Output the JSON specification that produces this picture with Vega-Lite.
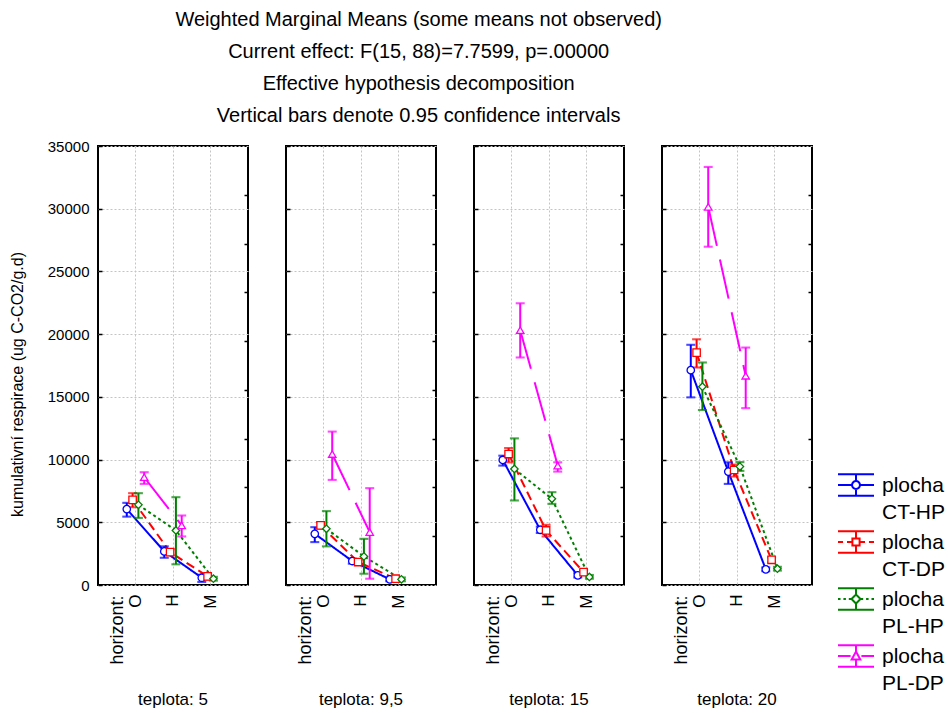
{
  "$schema": "https://vega.github.io/schema/vega-lite/v6.json",
  "padding": {"left": 8, "top": 10, "right": 5, "bottom": 5},
  "title": {
    "text": ["Weighted Marginal Means (some means not observed)", "Current effect: F(15, 88)=7.7599, p=.00000", "Effective hypothesis decomposition", "Vertical bars denote 0.95 confidence intervals"],
    "fontSize": 20, "fontWeight": "normal", "font": "Liberation Sans", "color": "black",
    "lineHeight": 32, "offset": 12, "anchor": "middle", "dx": -58
  },
  "data": {"values": [
    {"teplota": "5", "horizont": "O", "plocha": "CT-HP", "mean": 6050, "lo": 5450, "hi": 6550},
    {"teplota": "5", "horizont": "H", "plocha": "CT-HP", "mean": 2680, "lo": 2170, "hi": 3080},
    {"teplota": "5", "horizont": "M", "plocha": "CT-HP", "mean": 580, "lo": 240, "hi": 820},
    {"teplota": "5", "horizont": "O", "plocha": "CT-DP", "mean": 6790, "lo": 6200, "hi": 7320},
    {"teplota": "5", "horizont": "H", "plocha": "CT-DP", "mean": 2620, "lo": 2400, "hi": 2850},
    {"teplota": "5", "horizont": "M", "plocha": "CT-DP", "mean": 690, "lo": 450, "hi": 900},
    {"teplota": "5", "horizont": "O", "plocha": "PL-HP", "mean": 6390, "lo": 5350, "hi": 7320},
    {"teplota": "5", "horizont": "H", "plocha": "PL-HP", "mean": 4350, "lo": 1650, "hi": 7000},
    {"teplota": "5", "horizont": "M", "plocha": "PL-HP", "mean": 500, "lo": 350, "hi": 650},
    {"teplota": "5", "horizont": "O", "plocha": "PL-DP", "mean": 8590, "lo": 8060, "hi": 8990},
    {"teplota": "5", "horizont": "H", "plocha": "PL-DP", "mean": 4750, "lo": 3870, "hi": 5540},
    {"teplota": "9,5", "horizont": "O", "plocha": "CT-HP", "mean": 4080, "lo": 3420, "hi": 4610},
    {"teplota": "9,5", "horizont": "H", "plocha": "CT-HP", "mean": 1910, "lo": 1700, "hi": 2100},
    {"teplota": "9,5", "horizont": "M", "plocha": "CT-HP", "mean": 450, "lo": 300, "hi": 600},
    {"teplota": "9,5", "horizont": "O", "plocha": "CT-DP", "mean": 4750, "lo": 4500, "hi": 5000},
    {"teplota": "9,5", "horizont": "H", "plocha": "CT-DP", "mean": 1830, "lo": 1650, "hi": 2000},
    {"teplota": "9,5", "horizont": "M", "plocha": "CT-DP", "mean": 500, "lo": 350, "hi": 650},
    {"teplota": "9,5", "horizont": "O", "plocha": "PL-HP", "mean": 4480, "lo": 3080, "hi": 5890},
    {"teplota": "9,5", "horizont": "H", "plocha": "PL-HP", "mean": 2280, "lo": 900, "hi": 3680},
    {"teplota": "9,5", "horizont": "M", "plocha": "PL-HP", "mean": 450, "lo": 300, "hi": 600},
    {"teplota": "9,5", "horizont": "O", "plocha": "PL-DP", "mean": 10440, "lo": 8380, "hi": 12230},
    {"teplota": "9,5", "horizont": "H", "plocha": "PL-DP", "mean": 4220, "lo": 500, "hi": 7720},
    {"teplota": "15", "horizont": "O", "plocha": "CT-HP", "mean": 9970, "lo": 9520, "hi": 10310},
    {"teplota": "15", "horizont": "H", "plocha": "CT-HP", "mean": 4400, "lo": 4150, "hi": 4650},
    {"teplota": "15", "horizont": "M", "plocha": "CT-HP", "mean": 770, "lo": 600, "hi": 950},
    {"teplota": "15", "horizont": "O", "plocha": "CT-DP", "mean": 10440, "lo": 9780, "hi": 10920},
    {"teplota": "15", "horizont": "H", "plocha": "CT-DP", "mean": 4350, "lo": 3870, "hi": 4800},
    {"teplota": "15", "horizont": "M", "plocha": "CT-DP", "mean": 1030, "lo": 850, "hi": 1200},
    {"teplota": "15", "horizont": "O", "plocha": "PL-HP", "mean": 9250, "lo": 6740, "hi": 11690},
    {"teplota": "15", "horizont": "H", "plocha": "PL-HP", "mean": 6870, "lo": 6470, "hi": 7400},
    {"teplota": "15", "horizont": "M", "plocha": "PL-HP", "mean": 640, "lo": 500, "hi": 800},
    {"teplota": "15", "horizont": "O", "plocha": "PL-DP", "mean": 20310, "lo": 18140, "hi": 22460},
    {"teplota": "15", "horizont": "H", "plocha": "PL-DP", "mean": 9520, "lo": 9040, "hi": 9780},
    {"teplota": "20", "horizont": "O", "plocha": "CT-HP", "mean": 17130, "lo": 14960, "hi": 19150},
    {"teplota": "20", "horizont": "H", "plocha": "CT-HP", "mean": 9040, "lo": 8060, "hi": 9780},
    {"teplota": "20", "horizont": "M", "plocha": "CT-HP", "mean": 1250, "lo": 1100, "hi": 1400},
    {"teplota": "20", "horizont": "O", "plocha": "CT-DP", "mean": 18530, "lo": 17340, "hi": 19590},
    {"teplota": "20", "horizont": "H", "plocha": "CT-DP", "mean": 9170, "lo": 8650, "hi": 9600},
    {"teplota": "20", "horizont": "M", "plocha": "CT-DP", "mean": 2010, "lo": 1800, "hi": 2200},
    {"teplota": "20", "horizont": "O", "plocha": "PL-HP", "mean": 15810, "lo": 13950, "hi": 17740},
    {"teplota": "20", "horizont": "H", "plocha": "PL-HP", "mean": 9440, "lo": 9100, "hi": 9800},
    {"teplota": "20", "horizont": "M", "plocha": "PL-HP", "mean": 1300, "lo": 1150, "hi": 1450},
    {"teplota": "20", "horizont": "O", "plocha": "PL-DP", "mean": 30150, "lo": 26970, "hi": 33330},
    {"teplota": "20", "horizont": "H", "plocha": "PL-DP", "mean": 16680, "lo": 14100, "hi": 18930}
  ]},
  "spacing": 34,
  "resolve": {"scale": {"color": "shared", "shape": "shared", "strokeDash": "shared"}, "legend": {"color": "shared"}},
  "hconcat": [
    {
      "width": 150, "height": 439,
      "transform": [{"filter": "datum.teplota == '5'"}],
      "title": {"text": "teplota: 5", "orient": "bottom", "offset": 28, "fontSize": 17, "font": "Liberation Sans", "fontWeight": "normal", "color": "black"},
      "encoding": {
        "x": {"field": "horizont", "type": "nominal", "title": "horizont:", "scale": {"domain": ["O", "H", "M"], "paddingInner": 0.38, "paddingOuter": 0.69},
          "axis": {"titleAngle": 270, "titleAlign": "right", "titleBaseline": "middle", "titleX": 19, "titleY": 10, "titleFontSize": 18, "labelAngle": 270, "labelAlign": "right", "labelBaseline": "middle", "labelFontSize": 17, "labelPadding": 9, "ticks": false, "grid": true, "bandPosition": 0.5}},
        "xOffset": {"field": "plocha", "type": "nominal", "scale": {"domain": ["CT-HP", "CT-DP", "PL-HP", "PL-DP"]}},
        "color": {"field": "plocha", "type": "nominal", "scale": {"domain": ["CT-HP", "CT-DP", "PL-HP", "PL-DP"], "range": ["#0000ff", "#ff0000", "#008000", "#ff00ff"]},
          "legend": {
            "title": null, "orient": "none", "legendX": 739, "legendY": 320, "padding": 0,
            "labelExpr": "['plocha', datum.label]",
            "labelFont": "Liberation Sans", "labelFontSize": 21, "labelColor": "black", "labelOffset": 7, "labelLimit": 200,
            "symbolSize": 1296, "symbolStrokeWidth": 2, "rowPadding": 0,
            "encode": {
              "symbols": {"update": {
                "shape": {"signal": "datum.value === 'CT-HP' ? 'M-1,-0.6H1M-1,0.6H1M0,-0.6V-0.22M0,0.22V0.6M-1,0H-0.22M0.22,0H1M0.22,0A0.22,0.22,0,1,1,-0.22,0A0.22,0.22,0,1,1,0.22,0' : datum.value === 'CT-DP' ? 'M-1,-0.6H1M-1,0.6H1M0,-0.6V-0.2M0,0.2V0.6M-1,0H-0.72M-0.5,0H-0.2M0.2,0H0.5M0.72,0H1M-0.2,-0.2H0.2V0.2H-0.2Z' : datum.value === 'PL-HP' ? 'M-1,-0.6H1M-1,0.6H1M0,-0.6V-0.25M0,0.25V0.6M-1,0H-0.86M-0.7,0H-0.56M-0.4,0H-0.25M0.25,0H0.4M0.56,0H0.7M0.86,0H1M0,-0.25L0.25,0L0,0.25L-0.25,0Z' : 'M-1,-0.6H1M-1,0.6H1M0,-0.6V-0.25M0,0.2V0.6M-1,0H-0.3M0.3,0H1M0,-0.25L0.24,0.2H-0.24Z'"},
                "fill": {"value": "transparent"},
                "strokeWidth": {"value": 2},
                "opacity": {"value": 1}
              }},
              "labels": {"update": {"lineHeight": {"value": 27}, "baseline": {"value": "alphabetic"}, "dy": {"value": 7}}}
            }
          }}
      },
      "layer": [
        {"mark": {"type": "line", "strokeWidth": 2},
         "encoding": {
           "y": {"field": "mean", "type": "quantitative", "scale": {"domain": [0, 35000], "nice": false, "zero": false},
             "axis": {"title": "kumulativní respirace (ug C-CO2/g.d)", "titleFontSize": 16, "titlePadding": 22, "titleY": 238, "values": [0, 5000, 10000, 15000, 20000, 25000, 30000, 35000], "format": "d", "labelFontSize": 15, "labelPadding": 13, "tickSize": -4, "tickWidth": 1.5, "grid": true}},
           "strokeDash": {"field": "plocha", "type": "nominal", "scale": {"domain": ["PL-DP", "PL-HP", "CT-DP", "CT-HP"], "range": [[40, 14], [3, 3], [9, 5], [1, 0]]}, "legend": null},
           "order": {"value": null}
         }},
        {"mark": {"type": "rule", "strokeWidth": 2},
         "encoding": {
           "y": {"field": "lo", "type": "quantitative", "axis": {"orient": "right", "values": [3888.9, 7777.8, 11666.7, 15555.6, 19444.4, 23333.3, 27222.2, 31111.1], "labels": false, "grid": false, "title": null, "tickSize": -4, "tickWidth": 1.5}},
           "y2": {"field": "hi"}
         }},
        {"mark": {"type": "tick", "size": 7, "thickness": 0.1, "filled": false, "strokeWidth": 2}, "encoding": {"y": {"field": "lo", "type": "quantitative", "axis": null}}},
        {"mark": {"type": "tick", "size": 7, "thickness": 0.1, "filled": false, "strokeWidth": 2}, "encoding": {"y": {"field": "hi", "type": "quantitative", "axis": null}}},
        {"mark": {"type": "point", "filled": false, "fill": "white", "fillOpacity": 1, "size": 55, "strokeWidth": 1.3, "opacity": 1},
         "encoding": {
           "y": {"field": "mean", "type": "quantitative", "axis": null},
           "shape": {"field": "plocha", "type": "nominal", "scale": {"domain": ["PL-DP", "PL-HP", "CT-DP", "CT-HP"], "range": ["triangle-up", "diamond", "square", "circle"]}, "legend": null}
         }}
      ],
      "resolve": {"axis": {"y": "independent"}}
    },
    {
      "width": 150, "height": 439,
      "transform": [{"filter": "datum.teplota == '9,5'"}],
      "title": {"text": "teplota: 9,5", "orient": "bottom", "offset": 28, "fontSize": 17, "font": "Liberation Sans", "fontWeight": "normal", "color": "black"},
      "encoding": {
        "x": {"field": "horizont", "type": "nominal", "title": "horizont:", "scale": {"domain": ["O", "H", "M"], "paddingInner": 0.38, "paddingOuter": 0.69},
          "axis": {"titleAngle": 270, "titleAlign": "right", "titleBaseline": "middle", "titleX": 19, "titleY": 10, "titleFontSize": 18, "labelAngle": 270, "labelAlign": "right", "labelBaseline": "middle", "labelFontSize": 17, "labelPadding": 9, "ticks": false, "grid": true, "bandPosition": 0.5}},
        "xOffset": {"field": "plocha", "type": "nominal", "scale": {"domain": ["CT-HP", "CT-DP", "PL-HP", "PL-DP"]}},
        "color": {"field": "plocha", "type": "nominal", "scale": {"domain": ["CT-HP", "CT-DP", "PL-HP", "PL-DP"], "range": ["#0000ff", "#ff0000", "#008000", "#ff00ff"]}}
      },
      "layer": [
        {"mark": {"type": "line", "strokeWidth": 2},
         "encoding": {
           "y": {"field": "mean", "type": "quantitative", "scale": {"domain": [0, 35000], "nice": false, "zero": false},
             "axis": {"title": null, "values": [0, 5000, 10000, 15000, 20000, 25000, 30000, 35000], "labels": false, "tickSize": -4, "tickWidth": 1.5, "grid": true}},
           "strokeDash": {"field": "plocha", "type": "nominal", "scale": {"domain": ["PL-DP", "PL-HP", "CT-DP", "CT-HP"], "range": [[40, 14], [3, 3], [9, 5], [1, 0]]}, "legend": null},
           "order": {"value": null}
         }},
        {"mark": {"type": "rule", "strokeWidth": 2},
         "encoding": {
           "y": {"field": "lo", "type": "quantitative", "axis": {"orient": "right", "values": [3888.9, 7777.8, 11666.7, 15555.6, 19444.4, 23333.3, 27222.2, 31111.1], "labels": false, "grid": false, "title": null, "tickSize": -4, "tickWidth": 1.5}},
           "y2": {"field": "hi"}
         }},
        {"mark": {"type": "tick", "size": 7, "thickness": 0.1, "filled": false, "strokeWidth": 2}, "encoding": {"y": {"field": "lo", "type": "quantitative", "axis": null}}},
        {"mark": {"type": "tick", "size": 7, "thickness": 0.1, "filled": false, "strokeWidth": 2}, "encoding": {"y": {"field": "hi", "type": "quantitative", "axis": null}}},
        {"mark": {"type": "point", "filled": false, "fill": "white", "fillOpacity": 1, "size": 55, "strokeWidth": 1.3, "opacity": 1},
         "encoding": {
           "y": {"field": "mean", "type": "quantitative", "axis": null},
           "shape": {"field": "plocha", "type": "nominal", "scale": {"domain": ["PL-DP", "PL-HP", "CT-DP", "CT-HP"], "range": ["triangle-up", "diamond", "square", "circle"]}, "legend": null}
         }}
      ],
      "resolve": {"axis": {"y": "independent"}}
    },
    {
      "width": 150, "height": 439,
      "transform": [{"filter": "datum.teplota == '15'"}],
      "title": {"text": "teplota: 15", "orient": "bottom", "offset": 28, "fontSize": 17, "font": "Liberation Sans", "fontWeight": "normal", "color": "black"},
      "encoding": {
        "x": {"field": "horizont", "type": "nominal", "title": "horizont:", "scale": {"domain": ["O", "H", "M"], "paddingInner": 0.38, "paddingOuter": 0.69},
          "axis": {"titleAngle": 270, "titleAlign": "right", "titleBaseline": "middle", "titleX": 19, "titleY": 10, "titleFontSize": 18, "labelAngle": 270, "labelAlign": "right", "labelBaseline": "middle", "labelFontSize": 17, "labelPadding": 9, "ticks": false, "grid": true, "bandPosition": 0.5}},
        "xOffset": {"field": "plocha", "type": "nominal", "scale": {"domain": ["CT-HP", "CT-DP", "PL-HP", "PL-DP"]}},
        "color": {"field": "plocha", "type": "nominal", "scale": {"domain": ["CT-HP", "CT-DP", "PL-HP", "PL-DP"], "range": ["#0000ff", "#ff0000", "#008000", "#ff00ff"]}}
      },
      "layer": [
        {"mark": {"type": "line", "strokeWidth": 2},
         "encoding": {
           "y": {"field": "mean", "type": "quantitative", "scale": {"domain": [0, 35000], "nice": false, "zero": false},
             "axis": {"title": null, "values": [0, 5000, 10000, 15000, 20000, 25000, 30000, 35000], "labels": false, "tickSize": -4, "tickWidth": 1.5, "grid": true}},
           "strokeDash": {"field": "plocha", "type": "nominal", "scale": {"domain": ["PL-DP", "PL-HP", "CT-DP", "CT-HP"], "range": [[40, 14], [3, 3], [9, 5], [1, 0]]}, "legend": null},
           "order": {"value": null}
         }},
        {"mark": {"type": "rule", "strokeWidth": 2},
         "encoding": {
           "y": {"field": "lo", "type": "quantitative", "axis": {"orient": "right", "values": [3888.9, 7777.8, 11666.7, 15555.6, 19444.4, 23333.3, 27222.2, 31111.1], "labels": false, "grid": false, "title": null, "tickSize": -4, "tickWidth": 1.5}},
           "y2": {"field": "hi"}
         }},
        {"mark": {"type": "tick", "size": 7, "thickness": 0.1, "filled": false, "strokeWidth": 2}, "encoding": {"y": {"field": "lo", "type": "quantitative", "axis": null}}},
        {"mark": {"type": "tick", "size": 7, "thickness": 0.1, "filled": false, "strokeWidth": 2}, "encoding": {"y": {"field": "hi", "type": "quantitative", "axis": null}}},
        {"mark": {"type": "point", "filled": false, "fill": "white", "fillOpacity": 1, "size": 55, "strokeWidth": 1.3, "opacity": 1},
         "encoding": {
           "y": {"field": "mean", "type": "quantitative", "axis": null},
           "shape": {"field": "plocha", "type": "nominal", "scale": {"domain": ["PL-DP", "PL-HP", "CT-DP", "CT-HP"], "range": ["triangle-up", "diamond", "square", "circle"]}, "legend": null}
         }}
      ],
      "resolve": {"axis": {"y": "independent"}}
    },
    {
      "width": 150, "height": 439,
      "transform": [{"filter": "datum.teplota == '20'"}],
      "title": {"text": "teplota: 20", "orient": "bottom", "offset": 28, "fontSize": 17, "font": "Liberation Sans", "fontWeight": "normal", "color": "black"},
      "encoding": {
        "x": {"field": "horizont", "type": "nominal", "title": "horizont:", "scale": {"domain": ["O", "H", "M"], "paddingInner": 0.38, "paddingOuter": 0.69},
          "axis": {"titleAngle": 270, "titleAlign": "right", "titleBaseline": "middle", "titleX": 19, "titleY": 10, "titleFontSize": 18, "labelAngle": 270, "labelAlign": "right", "labelBaseline": "middle", "labelFontSize": 17, "labelPadding": 9, "ticks": false, "grid": true, "bandPosition": 0.5}},
        "xOffset": {"field": "plocha", "type": "nominal", "scale": {"domain": ["CT-HP", "CT-DP", "PL-HP", "PL-DP"]}},
        "color": {"field": "plocha", "type": "nominal", "scale": {"domain": ["CT-HP", "CT-DP", "PL-HP", "PL-DP"], "range": ["#0000ff", "#ff0000", "#008000", "#ff00ff"]}}
      },
      "layer": [
        {"mark": {"type": "line", "strokeWidth": 2},
         "encoding": {
           "y": {"field": "mean", "type": "quantitative", "scale": {"domain": [0, 35000], "nice": false, "zero": false},
             "axis": {"title": null, "values": [0, 5000, 10000, 15000, 20000, 25000, 30000, 35000], "labels": false, "tickSize": -4, "tickWidth": 1.5, "grid": true}},
           "strokeDash": {"field": "plocha", "type": "nominal", "scale": {"domain": ["PL-DP", "PL-HP", "CT-DP", "CT-HP"], "range": [[40, 14], [3, 3], [9, 5], [1, 0]]}, "legend": null},
           "order": {"value": null}
         }},
        {"mark": {"type": "rule", "strokeWidth": 2},
         "encoding": {
           "y": {"field": "lo", "type": "quantitative", "axis": {"orient": "right", "values": [3888.9, 7777.8, 11666.7, 15555.6, 19444.4, 23333.3, 27222.2, 31111.1], "labels": false, "grid": false, "title": null, "tickSize": -4, "tickWidth": 1.5}},
           "y2": {"field": "hi"}
         }},
        {"mark": {"type": "tick", "size": 7, "thickness": 0.1, "filled": false, "strokeWidth": 2}, "encoding": {"y": {"field": "lo", "type": "quantitative", "axis": null}}},
        {"mark": {"type": "tick", "size": 7, "thickness": 0.1, "filled": false, "strokeWidth": 2}, "encoding": {"y": {"field": "hi", "type": "quantitative", "axis": null}}},
        {"mark": {"type": "point", "filled": false, "fill": "white", "fillOpacity": 1, "size": 55, "strokeWidth": 1.3, "opacity": 1},
         "encoding": {
           "y": {"field": "mean", "type": "quantitative", "axis": null},
           "shape": {"field": "plocha", "type": "nominal", "scale": {"domain": ["PL-DP", "PL-HP", "CT-DP", "CT-HP"], "range": ["triangle-up", "diamond", "square", "circle"]}, "legend": null}
         }}
      ],
      "resolve": {"axis": {"y": "independent"}}
    }
  ],
  "config": {
    "view": {"stroke": "black", "strokeWidth": 2},
    "font": "Liberation Sans",
    "axis": {"labelColor": "black", "labelFont": "Liberation Sans", "titleFont": "Liberation Sans", "titleFontWeight": "normal", "titleColor": "black", "gridColor": "#c4c4c4", "gridDash": [2, 2], "gridWidth": 1, "tickColor": "black", "domain": false}
  }
}
